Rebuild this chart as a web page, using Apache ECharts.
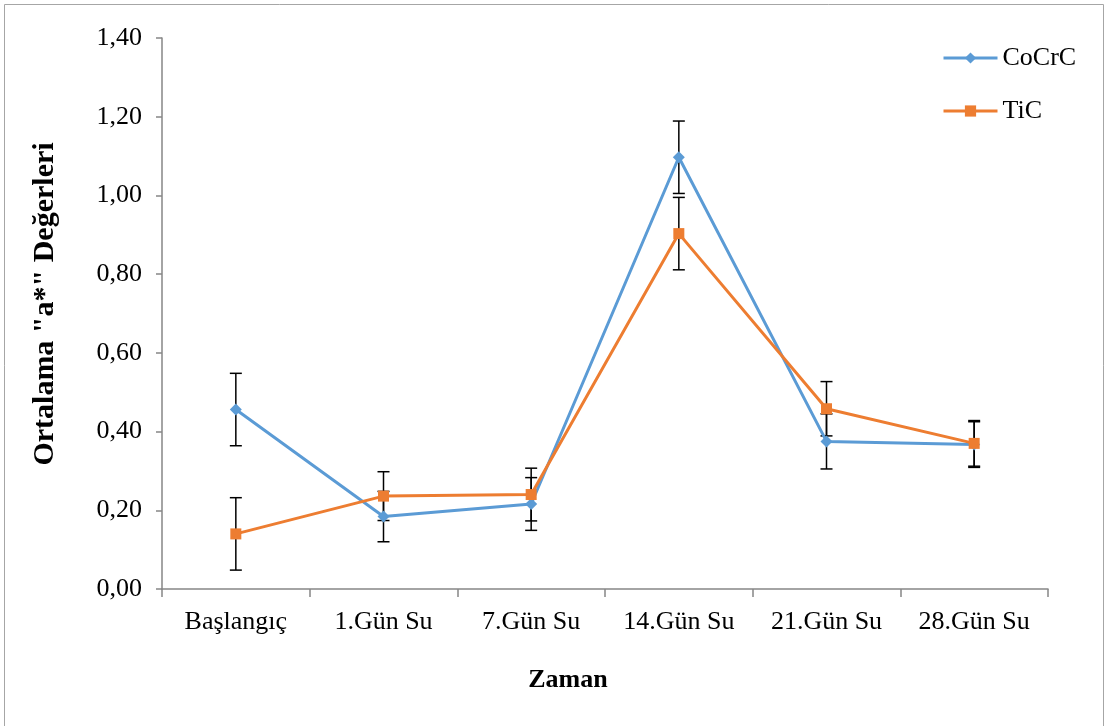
<!DOCTYPE html>
<html><head><meta charset="utf-8">
<script src="https://cdn.jsdelivr.net/npm/echarts@6/dist/echarts.min.js"></script>
<style>html,body{margin:0;padding:0;background:#fff}#c{width:1105px;height:726px}</style>
</head><body><div id="c"></div>
<script>
const categories = ['Başlangıç', '1.Gün Su', '7.Gün Su', '14.Gün Su', '21.Gün Su', '28.Gün Su'];
const cocrc = [0.456, 0.184, 0.216, 1.097, 0.375, 0.367];
const cocrcErr = [0.092, 0.064, 0.067, 0.092, 0.070, 0.058];
const tic = [0.140, 0.236, 0.240, 0.903, 0.458, 0.370];
const ticErr = [0.092, 0.062, 0.067, 0.092, 0.069, 0.058];
const yTicks = [0, 0.2, 0.4, 0.6, 0.8, 1.0, 1.2, 1.4];
const xTitle = 'Zaman';
const yTitle = 'Ortalama "a*" Değerleri';

const FONT = '"Liberation Serif","Times New Roman",serif';
const chart = echarts.init(document.getElementById('c'), null, {renderer: 'canvas'});

function errSeries(vals, errs, name) {
  return {
    type: 'custom', name: name + '_err', z: 1, silent: true,
    data: vals.map((v, i) => [i, v - errs[i], v + errs[i]]),
    renderItem: function (params, api) {
      const lo = api.coord([api.value(0), api.value(1)]);
      const hi = api.coord([api.value(0), api.value(2)]);
      const w = 6;
      const st = {stroke: '#000', lineWidth: 1.5};
      return {type: 'group', children: [
        {type: 'line', shape: {x1: hi[0], y1: hi[1], x2: lo[0], y2: lo[1]}, style: st},
        {type: 'line', shape: {x1: hi[0]-w, y1: hi[1], x2: hi[0]+w, y2: hi[1]}, style: st},
        {type: 'line', shape: {x1: lo[0]-w, y1: lo[1], x2: lo[0]+w, y2: lo[1]}, style: st}
      ]};
    }
  };
}

chart.setOption({
  animation: false,
  backgroundColor: '#fff',
  graphic: [
    {type: 'rect', shape: {x: 4.5, y: 4.5, width: 1099, height: 800}, style: {fill: 'none', stroke: '#a6a6a6', lineWidth: 1}, z: -10},
    {type: 'text', x: 568, y: 680, style: {text: xTitle, fontFamily: FONT, fontSize: 26, fontWeight: 'bold', fill: '#000', align: 'center', verticalAlign: 'middle'}},
    {type: 'text', x: 45, y: 304, rotation: Math.PI / 2, style: {text: yTitle, fontFamily: FONT, fontSize: 30, fontWeight: 'bold', fill: '#000', align: 'center', verticalAlign: 'middle'}}
  ],
  grid: {left: 162, right: 57, top: 38, bottom: 137, containLabel: false},
  legend: {
    orient: 'vertical', left: 937, top: 40, itemGap: 27, itemWidth: 54, itemHeight: 14,
    data: ['CoCrC', 'TiC'],
    lineStyle: {width: 3},
    textStyle: {fontFamily: FONT, fontSize: 26, color: '#000'}
  },
  xAxis: {
    type: 'category', data: categories, boundaryGap: true,
    axisLine: {lineStyle: {color: '#868686', width: 1.5}},
    axisTick: {show: true, length: 8, alignWithLabel: false, lineStyle: {color: '#868686', width: 1.5}},
    axisLabel: {fontFamily: FONT, fontSize: 26, color: '#000', margin: 20, interval: 0}
  },
  yAxis: {
    type: 'value', min: 0, max: 1.4, interval: 0.2,
    axisLine: {show: true, lineStyle: {color: '#868686', width: 1.5}},
    axisTick: {show: true, length: 6, lineStyle: {color: '#868686', width: 1.5}},
    splitLine: {show: false},
    axisLabel: {fontFamily: FONT, fontSize: 26, color: '#000', margin: 20,
      formatter: v => v.toFixed(2).replace('.', ',')}
  },
  series: [
    errSeries(cocrc, cocrcErr, 'CoCrC'),
    errSeries(tic, ticErr, 'TiC'),
    {name: 'CoCrC', type: 'line', data: cocrc, z: 3, symbol: 'diamond', symbolSize: 12,
      itemStyle: {color: '#5B9BD5'}, lineStyle: {color: '#5B9BD5', width: 3}},
    {name: 'TiC', type: 'line', data: tic, z: 4, symbol: 'rect', symbolSize: 11,
      itemStyle: {color: '#ED7D31'}, lineStyle: {color: '#ED7D31', width: 3}}
  ]
});
</script></body></html>
